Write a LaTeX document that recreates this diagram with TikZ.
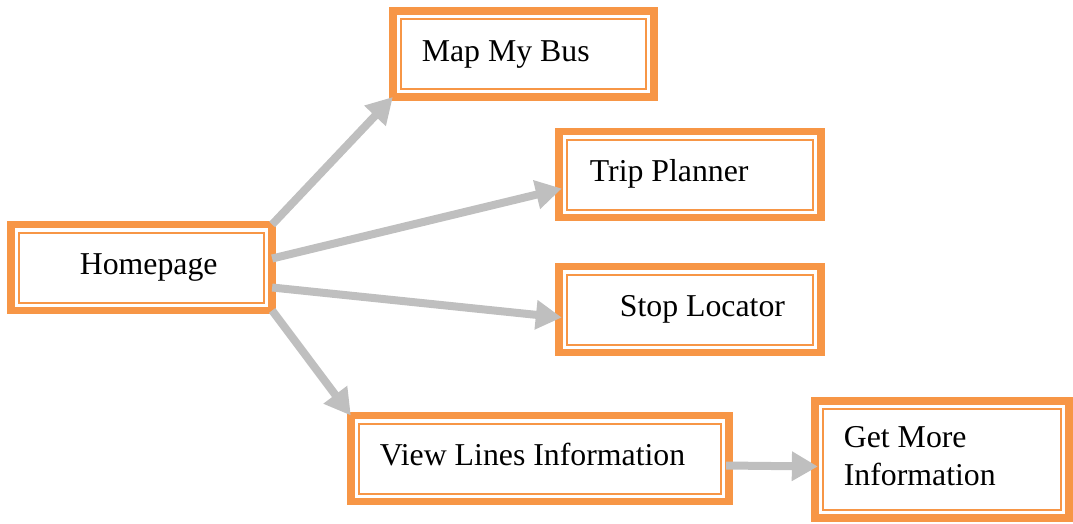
\documentclass[tikz,border=0pt]{standalone}
\usepackage{fontspec}
\setmainfont{Liberation Serif}
\usetikzlibrary{arrows.meta}
\definecolor{boxorange}{HTML}{F79646}
\definecolor{arrowgray}{HTML}{BFBFBF}

\begin{document}
\begin{tikzpicture}[x=1pt,y=-1pt,
    box/.style={draw=boxorange, line width=7.7pt, outer sep=0pt, align=flush left,
      inner xsep=29pt, inner ysep=0pt, text width=#1, minimum height=86pt,
      text height=21pt, text depth=7pt, font=\fontsize{31.8}{38}\selectfont},
    link/.style={-{Triangle[length=26pt,width=28pt]}, draw=arrowgray, fill=arrowgray, line width=8pt}]
    \useasboundingbox (0,0) rectangle (1073,523);

    \node[box=203.3pt] (home) at (141.5,267.5) {\hspace*{40pt}Homepage};
    \node[box=203.3pt] (map) at (523.5,54) {Map My Bus};
    \node[box=204.3pt] (trip) at (690,174.5) {\hspace*{2pt}Trip Planner};
    \node[box=204.3pt] (stop) at (690,309.5) {\hspace*{32pt}Stop Locator};
    \node[box=320.3pt] (view) at (540,458.5) {View Lines Information};
    \node[box=196.3pt, minimum height=117.3pt, text depth=45pt] (more) at (942,459.5) {Get More\\Information};

    % thin inner frame of every box
    \foreach \n in {home,map,trip,stop,view,more}
      \draw[boxorange, line width=2pt] ([shift={(8pt,8pt)}]\n.south west) rectangle ([shift={(-8pt,-8pt)}]\n.north east);

    \draw[link] (home.north east) -- (map.south west);
    \draw[link] ([yshift=9pt]home.east) -- ([shift={(3pt,-14pt)}]trip.west);
    \draw[link] ([yshift=-20pt]home.east) -- ([shift={(3pt,-8pt)}]stop.west);
    \draw[link] (home.south east) -- (view.north west);
    \draw[link] ([shift={(-3pt,-7pt)}]view.east) -- ([shift={(3pt,-7pt)}]more.west);
\end{tikzpicture}
\end{document}
